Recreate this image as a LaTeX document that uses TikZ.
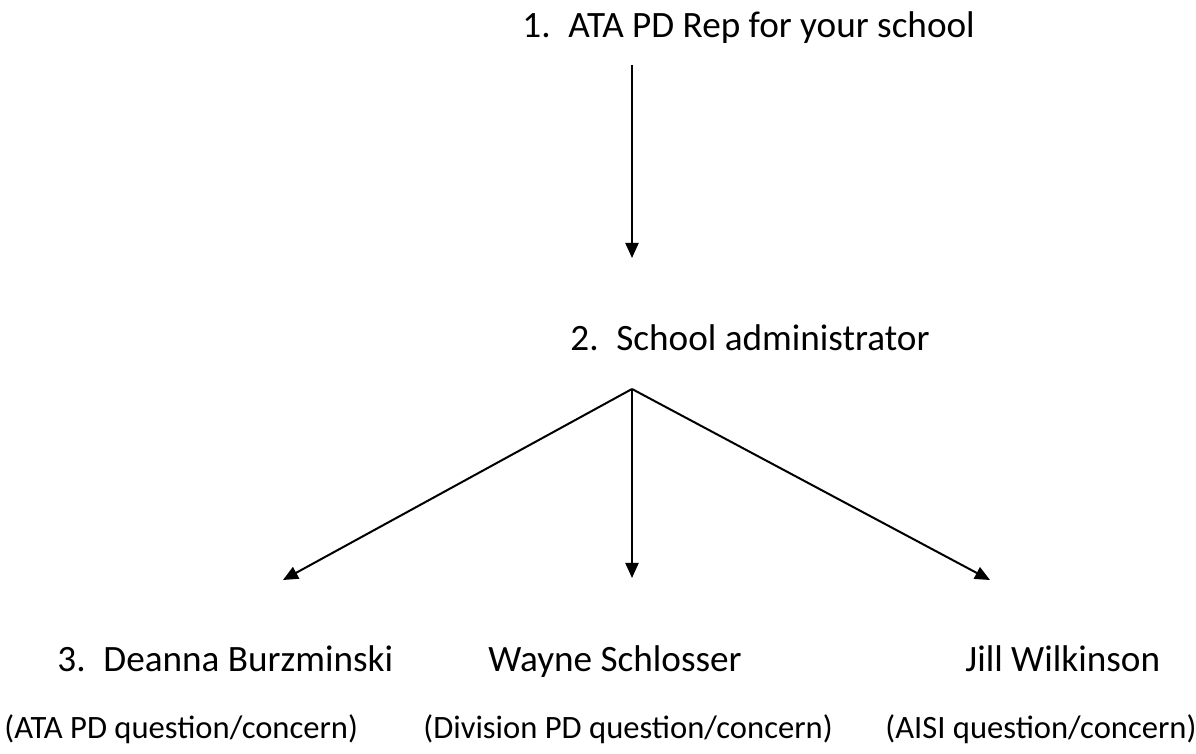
\documentclass[tikz,border=0pt]{standalone}
\usepackage{fontspec}
\setmainfont{Carlito}
\usepackage{tikz}
\usetikzlibrary{arrows.meta}

\newcommand{\listno}[1]{\makebox[23pt][l]{#1}}

\begin{document}
\begin{tikzpicture}[x=0.5pt, y=-0.5pt,
        lbl/.style={inner sep=0pt, anchor=base west, font=\fontsize{18.6}{22}\selectfont},
        note/.style={lbl, font=\fontsize{16.3}{19}\selectfont},
        arr/.style={line width=1pt, -{Triangle[length=7.5pt, width=6.5pt]}}]
        %FRAME
        \useasboundingbox (0,0) rectangle (1196,754);

        %TEKS
        \node[lbl] (rep) at (522,38) {\listno{1.}ATA PD Rep for your school};
        \node[lbl] (admin) at (570,351) {\listno{2.}School administrator};
        \node[lbl] (deanna) at (57,672) {\listno{3.}Deanna Burzminski};
        \node[lbl] (wayne) at (488,672) {Wayne Schlosser};
        \node[lbl] (jill) at (965,672) {Jill Wilkinson};
        \node[note] (ataq) at (4,739) {(ATA PD question/concern)};
        \node[note] (divq) at (423,739) {(Division PD question/concern)};
        \node[note] (aisiq) at (885,739) {(AISI question/concern)};

        %TITIK
        \coordinate (repout) at (632,65);
        \coordinate (adminin) at (632,258);
        \coordinate (fork) at (632,389);
        \coordinate (deannain) at (283,580);
        \coordinate (waynein) at (632,578);
        \coordinate (jillin) at (990,580);

        %PANAH
        \draw[arr] (repout) -- (adminin);
        \draw[arr] (fork) -- (deannain);
        \draw[arr] (fork) -- (waynein);
        \draw[arr] (fork) -- (jillin);
    \end{tikzpicture}
\end{document}
